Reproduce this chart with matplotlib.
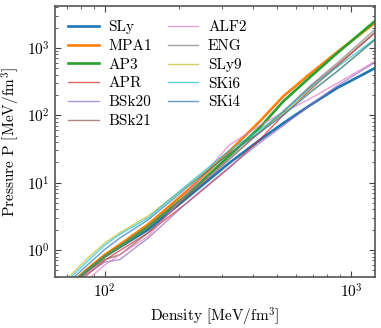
import matplotlib
matplotlib.use("Agg")
import matplotlib.pyplot as plt

plt.rcParams["font.family"] = "serif"
plt.rcParams["font.serif"] = ["cmr10"]
plt.rcParams["mathtext.fontset"] = "cm"
plt.rcParams["axes.formatter.use_mathtext"] = True
plt.rcParams["axes.unicode_minus"] = False

# energy density grid [MeV/fm^3]
density = [70, 85, 100, 115, 150, 220, 320, 430, 530, 680, 880, 1250]

# pressure [MeV/fm^3] for each EOS
p_sly = [0.28, 0.5, 0.8, 1.1, 2.0, 6.3, 19.5, 44, 76, 140, 255, 500]
p_mpa1 = [0.28, 0.52, 0.85, 1.2, 2.4, 8.0, 29, 84, 190, 409, 870, 2350]
p_ap3 = [0.27, 0.5, 0.8, 1.12, 2.2, 7.0, 25, 68, 160, 365, 840, 2500]
p_apr = [0.25, 0.43, 0.7, 0.98, 1.8, 5.3, 16.5, 45, 100, 236, 540, 1670]
p_bsk20 = [0.22, 0.45, 0.66, 0.72, 1.5, 5.4, 17, 40, 70, 140, 275, 610]
p_bsk21 = [0.25, 0.48, 0.72, 0.85, 1.8, 6.5, 22, 58, 115, 260, 560, 1700]
p_alf2 = [0.2, 0.36, 0.6, 0.85, 1.6, 7.5, 36, 72, 110, 175, 300, 630]
p_eng = [0.27, 0.5, 0.8, 1.12, 2.2, 7.0, 23, 57, 110, 270, 600, 1870]
p_sly9 = [0.37, 0.75, 1.27, 1.8, 3.2, 9.5, 27, 58, 105, 220, 450, 1300]
p_ski6 = [0.34, 0.68, 1.18, 1.7, 3.0, 9.8, 30, 62, 112, 250, 520, 1360]
p_ski4 = [0.31, 0.6, 1.02, 1.5, 2.8, 9.0, 27, 57, 100, 215, 450, 1330]

names = ["SLy", "MPA1", "AP3", "APR", "BSk20", "BSk21",
         "ALF2", "ENG", "SLy9", "SKi6", "SKi4"]
pressures = [p_sly, p_mpa1, p_ap3, p_apr, p_bsk20, p_bsk21,
             p_alf2, p_eng, p_sly9, p_ski6, p_ski4]

fig = plt.figure(figsize=(3.81, 3.28), dpi=100)
ax = fig.add_axes([0.144, 0.155, 0.840, 0.827])

for i, (name, p) in enumerate(zip(names, pressures)):
    color = "C%d" % (i % 10)
    if i < 3:
        ax.plot(density, p, color=color, lw=1.9, label=name)
    else:
        ax.plot(density, p, color=color, lw=1.0, alpha=0.7, label=name)

ax.set_xscale("log")
ax.set_yscale("log")
ax.set_xlim(62.7, 1250)
ax.set_ylim(0.395, 4200)

ax.set_xlabel(r"Density [MeV/fm$^3$]", fontsize=11)
ax.set_ylabel(r"Pressure P [MeV/fm$^3$]", fontsize=11)

ax.tick_params(which="both", direction="in", top=True, right=True,
               labelsize=11, color="#444444")
ax.tick_params(which="major", length=4, width=0.8)
ax.tick_params(which="minor", length=2, width=0.6)
for s in ax.spines.values():
    s.set_color("#555555")
    s.set_linewidth(1.2)

ax.legend(loc="upper left", bbox_to_anchor=(0.022, 0.97), borderaxespad=0,
          ncol=2, frameon=False, fontsize=11,
          handlelength=2.0, handletextpad=0.65, columnspacing=1.0,
          labelspacing=0.33)

fig.savefig("out.png", dpi=100)
